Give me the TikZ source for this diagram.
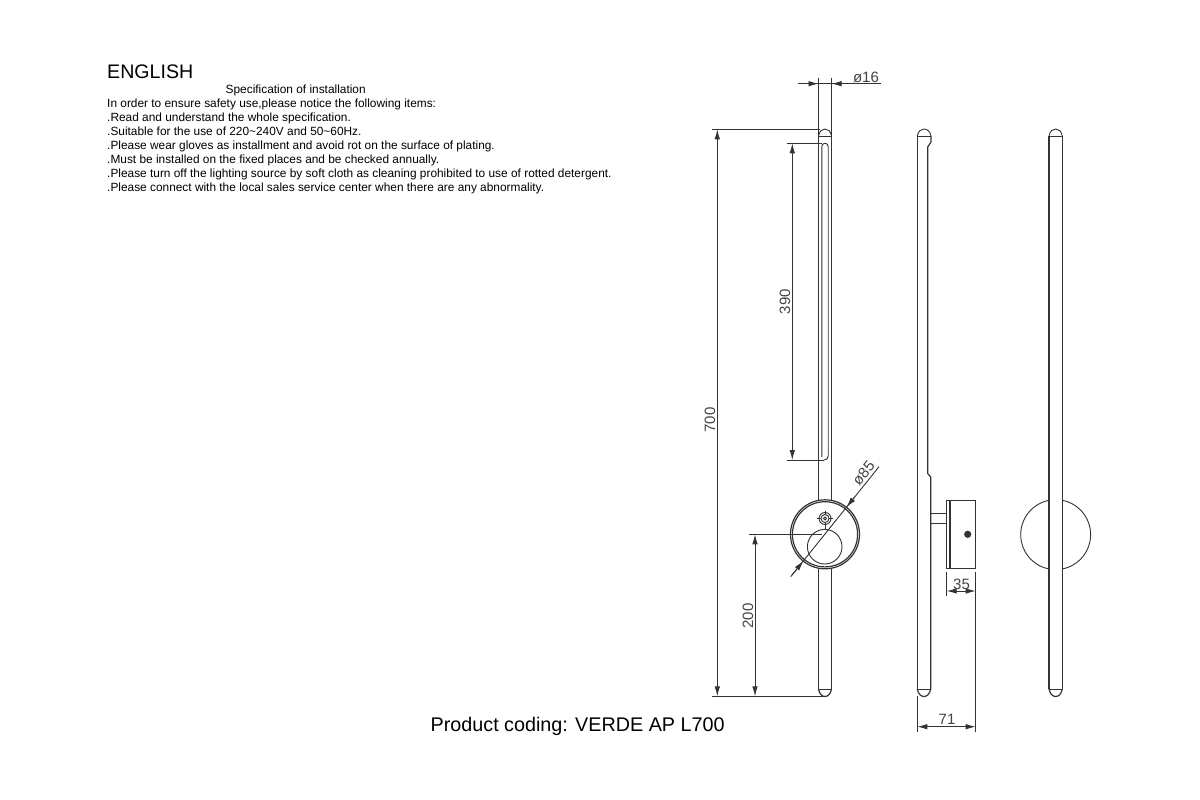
\documentclass[tikz,border=0pt]{standalone}
\usepackage{fontspec}
\setmainfont{Liberation Sans}
\usetikzlibrary{arrows.meta}
\definecolor{lineink}{HTML}{333333}
\definecolor{dimink}{HTML}{444444}
\tikzset{
  txt/.style={anchor=base west,inner sep=0pt,font=\fontsize{11.88}{12}\selectfont,text=black},
  dimtxt/.style={inner sep=0pt,font=\fontsize{15}{15}\selectfont,text=dimink},
  body/.style={draw=lineink,line width=1.2pt},
  fine/.style={draw=lineink,line width=0.9pt},
  dimline/.style={draw=lineink,line width=0.9pt},
  tipboth/.style={dimline,{Latex[length=10pt,width=5.5pt]}-{Latex[length=10pt,width=5.5pt]}},
  tipin/.style={dimline,-{Latex[length=10pt,width=5.5pt]}}
}
\begin{document}
\begin{tikzpicture}[x=1pt,y=-1pt]
\useasboundingbox (0,0) rectangle (1200,800);
\fill[white] (0,0) rectangle (1200,800);
% text block
\node[txt,font=\fontsize{19.6}{19.6}\selectfont] (head) at (107,78) {ENGLISH};
\node[txt] (t0) at (225.5,93.5) {Specification of installation};
\node[txt] (t1) at (107,107.5) {In order to ensure safety use,please notice the following items:};
\node[txt] (t2) at (107,121.5) {.Read and understand the whole specification.};
\node[txt] (t3) at (107,135.5) {.Suitable for the use of 220\textasciitilde240V and 50\textasciitilde60Hz.};
\node[txt] (t4) at (107,149.5) {.Please wear gloves as installment and avoid rot on the surface of plating.};
\node[txt] (t5) at (107,163.5) {.Must be installed on the fixed places and be checked annually.};
\node[txt] (t6) at (107,177.5) {.Please turn off the lighting source by soft cloth as cleaning prohibited to use of rotted detergent.};
\node[txt] (t7) at (107,191.5) {.Please connect with the local sales service center when there are any abnormality.};
\node[txt,font=\fontsize{19.75}{20}\selectfont] (code) at (430.5,731) {Product coding: VERDE AP L700};
% front view
\coordinate (fc) at (825,534.3);
\draw[body] (818.5,78) -- (818.5,500.5);
\draw[body] (831.5,78) -- (831.5,500.5);
\draw[body] (818.5,568.5) -- (818.5,689);
\draw[body] (831.5,568.5) -- (831.5,689);
\draw[fine] (818.5,136) .. controls (819.5,131) and (822,129) .. (825,129) .. controls (828,129) and (830.5,131) .. (831.5,136);
\draw[fine] (818.5,136) -- (831.5,136);
\draw[fine] (818.5,689) -- (831.5,689);
\draw[body] (818.5,689) .. controls (819.5,694) and (822,696.5) .. (825,696.5) .. controls (828,696.5) and (830.5,694) .. (831.5,689);
\draw[fine] (821.8,457) -- (821.8,146.5) .. controls (821.8,144.5) and (823.3,143.3) .. (825,143.3) .. controls (826.7,143.3) and (828.2,144.5) .. (828.2,146.5) -- (828.2,456) .. controls (828.2,458.5) and (826.5,460) .. (824,460);
\draw[body] (fc) circle[radius=34.5];
\draw[body] (fc) circle[radius=32.6];
\draw[fine] (824.7,546.7) circle[radius=17.3];
\draw[fine] (825,518.5) circle[radius=6];
\draw[fine] (825,518.5) circle[radius=4];
\draw[fine] (825,518.5) circle[radius=1.6];
\draw[fine] (825,510.5) -- (825,514.5) (825,522.5) -- (825,529.5) (817,518.5) -- (821,518.5) (829,518.5) -- (833,518.5);
% front dimensions
\draw[dimline] (798,83.7) -- (881,83.7);
\draw[tipin] (808,83.7) -- (818.5,83.7);
\draw[tipin] (842,83.7) -- (831.5,83.7);
\node[dimtxt] (d16) at (866,77) {ø16};
\draw[dimline] (712,129.3) -- (820,129.3);
\draw[dimline] (787,143.3) -- (822,143.3);
\draw[dimline] (787,460) -- (824,460);
\draw[dimline] (749,534.3) -- (822,534.3);
\draw[dimline] (712,696.3) -- (825,696.3);
\draw[tipboth] (717.3,129.3) -- (717.3,696.3);
\draw[tipboth] (792.3,143.3) -- (792.3,460);
\draw[tipboth] (755,534.3) -- (755,696.3);
\node[dimtxt,rotate=90] (d700) at (710,420) {700};
\node[dimtxt,rotate=90] (d390) at (785,301.5) {390};
\node[dimtxt,rotate=90] (d200) at (748,616) {200};
\draw[dimline] (790.7,576.7) -- (879,466.7);
\draw[tipin] (792,575) -- (803.4,560.9);
\draw[tipin] (855,496.6) -- (846.6,507.1);
\node[dimtxt,rotate=51] (d85) at (863.5,473) {ø85};
% side view
\draw[body] (917.3,689) -- (917.3,136);
\draw[fine] (917.3,136) .. controls (918.3,131) and (921,129) .. (924,129) .. controls (927,129) and (930,131) .. (931,136);
\draw[fine] (917.3,136) -- (931,136);
\draw[body] (931,136) -- (931,142) -- (927.7,147) -- (927.7,473.5) -- (930.7,477) -- (930.7,689);
\draw[fine] (917.3,689) -- (930.7,689);
\draw[body] (917.3,689) .. controls (918.3,694) and (921,696.5) .. (924,696.5) .. controls (927,696.5) and (929.7,694) .. (930.7,689);
\draw[fine] (930.7,513.3) -- (946.7,513.3) (930.7,523.3) -- (946.7,523.3);
\draw[fine] (946.7,500) rectangle (975.7,568.7);
\draw[line width=1.6pt,draw=lineink] (950,500) -- (950,568.7);
\fill[lineink] (967.7,534.3) circle[radius=3.6];
% side dimensions
\draw[fine] (946.7,571.7) -- (946.7,596);
\draw[fine] (975.7,571.7) -- (975.7,731.7);
\draw[fine] (917.3,696) -- (917.3,731.7);
\draw[tipin] (957,591) -- (946.7,591);
\draw[tipin] (965,591) -- (975.7,591);
\draw[dimline] (957,591) -- (965,591);
\node[dimtxt] (d35) at (961.5,584) {35};
\draw[tipboth] (917.3,726.7) -- (975.7,726.7);
\node[dimtxt] (d71) at (947,719.5) {71};
% rear view
\draw[body] (1049,689) -- (1049,136);
\draw[body] (1062.3,689) -- (1062.3,136);
\draw[fine] (1049,136) .. controls (1050,131) and (1052.7,129) .. (1055.7,129) .. controls (1058.7,129) and (1061.3,131) .. (1062.3,136);
\draw[fine] (1049,136) -- (1062.3,136);
\draw[fine] (1049,689) -- (1062.3,689);
\draw[body] (1049,689) .. controls (1050,694) and (1052.7,696.5) .. (1055.7,696.5) .. controls (1058.7,696.5) and (1061.3,694) .. (1062.3,689);
\draw[fine] (1049,500.3) arc[start angle=259,end angle=101,radius=35];
\draw[fine] (1062.3,500.3) arc[start angle=-79,end angle=79,radius=35];
\end{tikzpicture}
\end{document}
